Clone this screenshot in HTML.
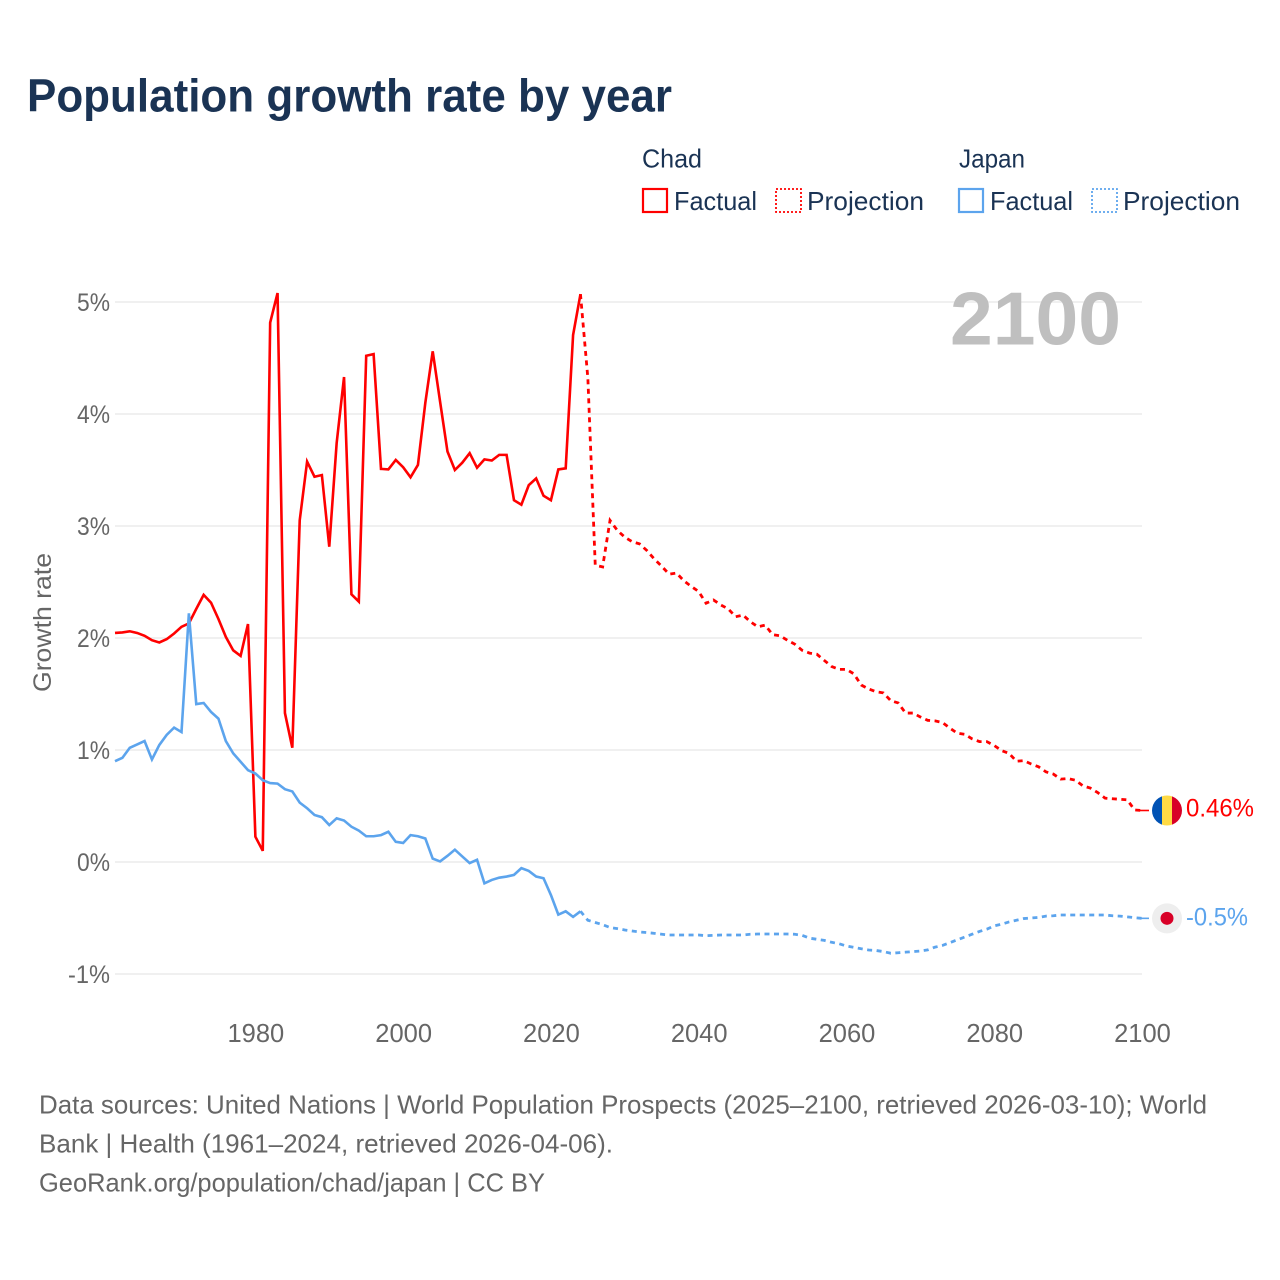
<!DOCTYPE html>
<html lang="en">
<head>
<meta charset="utf-8">
<title>Population growth rate by year</title>
<style>
html,body{margin:0;padding:0;background:#fff;}
svg{display:block;font-family:"Liberation Sans",sans-serif;}
</style>
</head>
<body>
<svg id="chart" xmlns="http://www.w3.org/2000/svg" width="1280" height="1280" viewBox="0 0 1280 1280">
  <rect x="0" y="0" width="1280" height="1280" fill="#ffffff"/>
  <text x="27" y="111.5" font-size="46" font-weight="bold" fill="#1a3354" textLength="645" lengthAdjust="spacingAndGlyphs">Population growth rate by year</text>

  <g font-size="26" fill="#1a3354">
    <text x="642" y="167.5" textLength="60" lengthAdjust="spacingAndGlyphs">Chad</text>
    <rect x="643" y="189" width="24" height="23" fill="none" stroke="#ff0000" stroke-width="2.2"/>
    <text x="674" y="210" textLength="83" lengthAdjust="spacingAndGlyphs">Factual</text>
    <rect x="776" y="189" width="25" height="23" fill="none" stroke="#ff0000" stroke-width="1.8" stroke-dasharray="2 2"/>
    <text x="807" y="210" textLength="117" lengthAdjust="spacingAndGlyphs">Projection</text>
    <text x="959" y="167.5" textLength="66" lengthAdjust="spacingAndGlyphs">Japan</text>
    <rect x="959" y="189" width="24" height="23" fill="none" stroke="#5ca4ed" stroke-width="2.2"/>
    <text x="990" y="210" textLength="83" lengthAdjust="spacingAndGlyphs">Factual</text>
    <rect x="1092" y="189" width="25" height="23" fill="none" stroke="#5ca4ed" stroke-width="1.8" stroke-dasharray="2 2"/>
    <text x="1123" y="210" textLength="117" lengthAdjust="spacingAndGlyphs">Projection</text>
  </g>

  <g id="grid"></g>
  <g id="yticks"></g>
  <g id="xticks"></g>
  <text transform="translate(51,622.5) rotate(-90)" text-anchor="middle" font-size="25" fill="#666666" textLength="139" lengthAdjust="spacingAndGlyphs">Growth rate</text>
  <text x="1121" y="344.5" text-anchor="end" font-size="75" font-weight="bold" fill="#bfbfbf" textLength="171" lengthAdjust="spacingAndGlyphs">2100</text>
  <g id="series"></g>
  <g id="ends"></g>

  <g font-size="26" fill="#666666">
    <text x="39" y="1113.5" textLength="1168" lengthAdjust="spacingAndGlyphs">Data sources: United Nations | World Population Prospects (2025–2100, retrieved 2026-03-10); World</text>
    <text x="39" y="1152.5" textLength="574" lengthAdjust="spacingAndGlyphs">Bank | Health (1961–2024, retrieved 2026-04-06).</text>
    <text x="39" y="1191.5" textLength="506" lengthAdjust="spacingAndGlyphs">GeoRank.org/population/chad/japan | CC BY</text>
  </g>
</svg>
<script>
const factualStartYear = 1961;
const chadFactual = [2.045,2.05,2.06,2.045,2.02,1.98,1.96,1.99,2.04,2.10,2.13,2.26,2.385,2.315,2.17,2.01,1.89,1.84,2.125,0.226,0.10,4.815,5.08,1.33,1.02,3.05,3.575,3.44,3.455,2.815,3.74,4.33,2.39,2.325,4.52,4.535,3.51,3.505,3.59,3.525,3.435,3.545,4.10,4.56,4.11,3.665,3.50,3.565,3.65,3.52,3.595,3.585,3.635,3.635,3.23,3.19,3.365,3.425,3.27,3.23,3.505,3.515,4.705,5.07];
const chadProjection = [4.32,2.65,2.635,3.05,2.96,2.90,2.86,2.84,2.78,2.705,2.64,2.57,2.58,2.51,2.46,2.415,2.31,2.34,2.295,2.26,2.19,2.205,2.145,2.10,2.115,2.03,2.02,1.98,1.945,1.89,1.865,1.855,1.80,1.745,1.72,1.72,1.68,1.58,1.545,1.52,1.51,1.44,1.42,1.33,1.33,1.295,1.265,1.26,1.245,1.195,1.15,1.14,1.10,1.075,1.075,1.04,0.995,0.97,0.90,0.905,0.875,0.85,0.805,0.785,0.74,0.745,0.73,0.68,0.66,0.62,0.57,0.565,0.56,0.555,0.465,0.46];
const japanFactual = [0.90,0.93,1.02,1.05,1.08,0.915,1.045,1.135,1.20,1.16,2.22,1.41,1.42,1.34,1.28,1.08,0.97,0.895,0.82,0.79,0.73,0.705,0.70,0.65,0.63,0.53,0.48,0.42,0.40,0.33,0.39,0.37,0.315,0.28,0.23,0.23,0.24,0.27,0.18,0.17,0.24,0.23,0.21,0.03,0.005,0.055,0.11,0.05,-0.01,0.02,-0.19,-0.16,-0.14,-0.13,-0.115,-0.055,-0.08,-0.13,-0.145,-0.295,-0.47,-0.44,-0.49,-0.44];
const japanProjection = [-0.52,-0.54,-0.56,-0.585,-0.595,-0.607,-0.616,-0.625,-0.63,-0.637,-0.645,-0.652,-0.652,-0.652,-0.652,-0.652,-0.658,-0.655,-0.652,-0.652,-0.652,-0.652,-0.645,-0.643,-0.643,-0.643,-0.643,-0.643,-0.645,-0.655,-0.68,-0.69,-0.70,-0.717,-0.73,-0.75,-0.762,-0.775,-0.786,-0.79,-0.80,-0.815,-0.81,-0.805,-0.80,-0.795,-0.785,-0.76,-0.745,-0.72,-0.695,-0.67,-0.645,-0.62,-0.60,-0.57,-0.555,-0.535,-0.52,-0.505,-0.50,-0.495,-0.483,-0.48,-0.473,-0.473,-0.473,-0.473,-0.473,-0.473,-0.473,-0.48,-0.483,-0.49,-0.497,-0.503];
const yTickValues = [-1,0,1,2,3,4,5];
const yTickLabels = ["-1%","0%","1%","2%","3%","4%","5%"];
const xTickYears = [1980,2000,2020,2040,2060,2080,2100];
const chadEndLabel = "0.46%";
const japanEndLabel = "-0.5%";

const NS = "http://www.w3.org/2000/svg";
const RED = "#ff0000";
const BLUE = "#5ca4ed";
function xScale(year){ return 115 + (year - 1961) * (1142 - 115) / (2100 - 1961); }
function yScale(v){ return 862 - 112 * v; }
function make(tag, attrs, parent){
  const el = document.createElementNS(NS, tag);
  for (const k in attrs) el.setAttribute(k, attrs[k]);
  parent.appendChild(el);
  return el;
}
function pathFrom(values, startYear){
  return values.map(function(v, i){
    return (i ? "L" : "M") + xScale(startYear + i).toFixed(2) + " " + yScale(v).toFixed(2);
  }).join("");
}

const grid = document.getElementById("grid");
const yticks = document.getElementById("yticks");
yTickValues.forEach(function(v, i){
  const line = make("line", {x1: 115, x2: 1142, y1: yScale(v), y2: yScale(v), stroke: "#ebebeb", "stroke-width": 1.5}, grid);
  
  
  const label = make("text", {x: 110, y: yScale(v) + 9, "text-anchor": "end", "font-size": 25, fill: "#666666", textLength: yTickLabels[i].length > 2 ? 42 : 33, lengthAdjust: "spacingAndGlyphs"}, yticks);
  
  
  label.textContent = yTickLabels[i];
});

const xticks = document.getElementById("xticks");
xTickYears.forEach(function(year){
  const label = make("text", {x: xScale(year) + 0.5, y: 1042, "text-anchor": "middle", "font-size": 25.5, fill: "#666666"}, xticks);
  
  
  label.textContent = String(year);
});

const series = document.getElementById("series");
function drawSeries(factual, projection, color, name){
  const solid = make("path", {d: pathFrom(factual, factualStartYear), fill: "none", stroke: color, "stroke-width": 2.6, "stroke-linejoin": "miter"}, series);
  
  
  const lastYear = factualStartYear + factual.length - 1;
  const joined = [factual[factual.length - 1]].concat(projection);
  const dashed = make("path", {d: pathFrom(joined, lastYear), fill: "none", stroke: color, "stroke-width": 2.8, "stroke-dasharray": "5 4.5"}, series);
  
  
}
drawSeries(chadFactual, chadProjection, RED, "chad");
drawSeries(japanFactual, japanProjection, BLUE, "japan");

const ends = document.getElementById("ends");
const endX = xScale(2100);
const chadEnd = yScale(chadProjection[chadProjection.length - 1]);
const japanEnd = yScale(japanProjection[japanProjection.length - 1]);

const chadTick = make("line", {x1: endX - 3, x2: endX + 7, y1: chadEnd, y2: chadEnd, stroke: RED, "stroke-width": 1.6}, ends);


const japanTick = make("line", {x1: endX - 3, x2: endX + 7, y1: japanEnd, y2: japanEnd, stroke: BLUE, "stroke-width": 1.6}, ends);



const chadFlag = make("g", {}, ends);


const cx = endX + 25;
const clip = make("clipPath", {id: "chad-clip"}, chadFlag);
make("circle", {cx: cx, cy: chadEnd, r: 15}, clip);
make("rect", {x: cx - 15, y: chadEnd - 15, width: 10, height: 30, fill: "#0052b4", "clip-path": "url(#chad-clip)"}, chadFlag);
make("rect", {x: cx - 5, y: chadEnd - 15, width: 10, height: 30, fill: "#ffda44", "clip-path": "url(#chad-clip)"}, chadFlag);
make("rect", {x: cx + 5, y: chadEnd - 15, width: 10, height: 30, fill: "#d80027", "clip-path": "url(#chad-clip)"}, chadFlag);

const japanFlag = make("g", {}, ends);


make("circle", {cx: cx, cy: japanEnd, r: 15, fill: "#eeeeee"}, japanFlag);
make("circle", {cx: cx, cy: japanEnd, r: 6.5, fill: "#d80027"}, japanFlag);

const chadValue = make("text", {x: 1186, y: chadEnd + 6, "font-size": 25, fill: RED, textLength: 68, lengthAdjust: "spacingAndGlyphs"}, ends);


chadValue.textContent = chadEndLabel;
const japanValue = make("text", {x: 1186, y: japanEnd + 7, "font-size": 25, fill: BLUE, textLength: 62, lengthAdjust: "spacingAndGlyphs"}, ends);


japanValue.textContent = japanEndLabel;
</script>
</body>
</html>
